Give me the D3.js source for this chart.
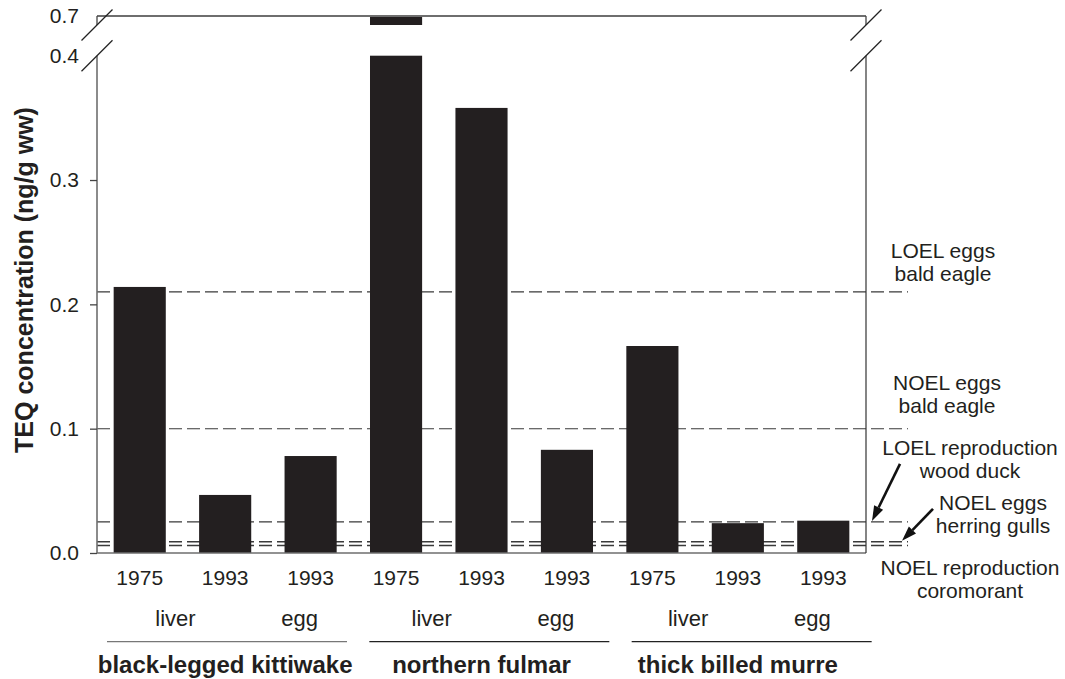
<!DOCTYPE html>
<html>
<head>
<meta charset="utf-8">
<script src="https://cdn.jsdelivr.net/npm/d3@7"></script>
<style>
  html, body { margin: 0; padding: 0; background: #fff; }
  svg { display: block; font-family: "Liberation Sans", Arial, sans-serif; }
</style>
</head>
<body>
<svg id="chart" width="1065" height="679"></svg>
<script>
// ---------- data ----------
const years = ["1975", "1993", "1993", "1975", "1993", "1993", "1975", "1993", "1993"];
const tissues = ["liver", "egg"];
const species = ["black-legged kittiwake", "northern fulmar", "thick billed murre"];
const values = [0.214, 0.0467, 0.078, 0.70, 0.358, 0.083, 0.1665, 0.024, 0.026];
const lowerTicks = [0.0, 0.1, 0.2, 0.3, 0.4];
const upperTicks = [0.7];
const thresholdValues = [0.21, 0.1, 0.025, 0.009, 0.006];
const thresholdLabels = [
  ["LOEL eggs", "bald eagle"],
  ["NOEL eggs", "bald eagle"],
  ["LOEL reproduction", "wood duck"],
  ["NOEL eggs", "herring gulls"],
  ["NOEL reproduction", "coromorant"]
];
const yTitle = "TEQ concentration (ng/g ww)";

// ---------- layout ----------
const L = 97, R = 866, T = 16, B = 553;
const breakLowY = 55.7, breakHighY = 25;
// label placement per threshold: [centre x, first baseline offset from line]
const labelLayout = [[943, -34], [947, -39], [970, -67], [993, -32], [970, 29]];
const arrowLayout = [null, null, {dx1: 28, dy1: -58, tipDx: 6}, {dx1: 31, dy1: -33, tipDx: 36}, null];

const svg = d3.select("#chart");

const x = d3.scaleBand().domain(d3.range(values.length)).range([L, R])
  .paddingInner(0.39).paddingOuter(0.195);
const yLow = d3.scaleLinear().domain([0, 0.4]).range([B, breakLowY]);
const yHigh = d3.scaleLinear().domain([0.6928, 0.7]).range([breakHighY, T]).clamp(true);

const gray = "#6e6e6e";

// threshold dashed lines (behind bars)
svg.append("g").selectAll("line").data(thresholdValues).join("line")
  .attr("x1", L).attr("x2", 908)
  .attr("y1", d => yLow(d)).attr("y2", d => yLow(d))
  .attr("stroke", "#3a3a3a")
  .attr("stroke-width", (d, i) => i >= 3 ? 1.4 : 1.1)
  .attr("stroke-dasharray", "13,5");

// bars
const bars = svg.append("g");
bars.selectAll("rect.low").data(values).join("rect").attr("class", "low")
  .attr("x", (d, i) => x(i)).attr("width", x.bandwidth())
  .attr("y", d => yLow(Math.min(d, 0.4)))
  .attr("height", d => yLow(0) - yLow(Math.min(d, 0.4)))
  .attr("fill", "#231f20");
bars.selectAll("rect.high").data(values.map((v, i) => ({v, i})).filter(d => d.v > 0.4)).join("rect")
  .attr("class", "high")
  .attr("x", d => x(d.i)).attr("width", x.bandwidth())
  .attr("y", d => yHigh(d.v))
  .attr("height", d => yHigh(yHigh.domain()[0]) - yHigh(d.v))
  .attr("fill", "#231f20");

// frame
const frame = svg.append("g").attr("fill", "none");
frame.append("line").attr("x1", L).attr("x2", R).attr("y1", T).attr("y2", T)
  .attr("stroke", gray).attr("stroke-width", 2);
frame.append("line").attr("x1", L).attr("x2", R).attr("y1", B).attr("y2", B)
  .attr("stroke", gray).attr("stroke-width", 1.5);
[L, R].forEach(xx => {
  frame.append("line").attr("x1", xx).attr("x2", xx).attr("y1", T).attr("y2", breakHighY)
    .attr("stroke", "#444").attr("stroke-width", 1.3);
  frame.append("line").attr("x1", xx).attr("x2", xx).attr("y1", breakLowY).attr("y2", B)
    .attr("stroke", xx === L ? gray : "#333").attr("stroke-width", xx === L ? 1.6 : 1.2);
  [breakHighY, breakLowY].forEach(yy => {
    frame.append("line")
      .attr("x1", xx - 15.5).attr("y1", yy + 15.5)
      .attr("x2", xx + 15.5).attr("y2", yy - 15.5)
      .attr("stroke", "#222").attr("stroke-width", 1.3);
  });
});

// y axis
const axLow = svg.append("g").attr("transform", `translate(${L},0)`)
  .call(d3.axisLeft(yLow).tickValues(lowerTicks).tickFormat(d3.format(".1f"))
    .tickSizeInner(7).tickSizeOuter(0).tickPadding(11));
axLow.select(".domain").remove();
axLow.selectAll(".tick line").attr("stroke", "#444").attr("stroke-width", 1.3)
  .filter(d => d === 0.4).remove();
const axHigh = svg.append("g").attr("transform", `translate(${L},0)`)
  .call(d3.axisLeft(yHigh).tickValues(upperTicks).tickFormat(d3.format(".1f"))
    .tickSizeInner(0).tickSizeOuter(0).tickPadding(18));
axHigh.select(".domain").remove();
axHigh.selectAll(".tick line").remove();
svg.selectAll(".tick text").attr("font-size", 21).attr("fill", "#231f20")
  .attr("font-family", "Liberation Sans, Arial, sans-serif");

// y title
svg.append("text")
  .attr("transform", `translate(33,280) rotate(-90)`)
  .attr("text-anchor", "middle")
  .attr("font-size", 25).attr("font-weight", "bold").attr("fill", "#231f20")
  .text(yTitle);

// x labels: years
svg.append("g").selectAll("text").data(years).join("text")
  .attr("x", (d, i) => x(i) + x.bandwidth() / 2).attr("y", 585)
  .attr("text-anchor", "middle").attr("font-size", 21).attr("fill", "#231f20")
  .text(d => d);

// tissue labels and species
const step = x.step();
species.forEach((sp, g) => {
  const c0 = x(g * 3) + x.bandwidth() / 2;
  const c1 = x(g * 3 + 1) + x.bandwidth() / 2;
  const c2 = x(g * 3 + 2) + x.bandwidth() / 2;
  svg.append("text").attr("x", (c0 + c1) / 2 - 7).attr("y", 626)
    .attr("text-anchor", "middle").attr("font-size", 22).attr("fill", "#231f20").text(tissues[0]);
  svg.append("text").attr("x", c2 - 11).attr("y", 626)
    .attr("text-anchor", "middle").attr("font-size", 22).attr("fill", "#231f20").text(tissues[1]);
  const gStart = x(g * 3) - step * x.paddingInner() / 2;
  svg.append("line").attr("x1", gStart + 10 + g * 6).attr("x2", gStart + 250 + g * 6)
    .attr("y1", 641.7).attr("y2", 641.7)
    .attr("stroke", g === 0 ? "#777" : "#222").attr("stroke-width", 1.3);
  svg.append("text").attr("x", c1).attr("y", 673)
    .attr("text-anchor", "middle").attr("font-size", 24).attr("font-weight", "bold")
    .attr("fill", "#231f20").text(sp);
});

// threshold labels
thresholdLabels.forEach((lines, i) => {
  const [cx, off] = labelLayout[i];
  const t = svg.append("text").attr("text-anchor", "middle").attr("font-size", 21).attr("fill", "#231f20");
  lines.forEach((ln, j) => {
    t.append("tspan").attr("x", cx).attr("y", yLow(thresholdValues[i]) + off + j * 23.5).text(ln);
  });
});

// arrows
arrowLayout.forEach((a, i) => {
  if (!a) return;
  const ty = yLow(thresholdValues[i]);
  const x2 = R + a.tipDx, y2 = ty - 1;
  const x1 = x2 + a.dx1, y1 = ty + a.dy1;
  const ang = Math.atan2(y2 - y1, x2 - x1);
  const hl = 15, hw = 5;
  const bx = x2 - hl * Math.cos(ang), by = y2 - hl * Math.sin(ang);
  svg.append("line").attr("x1", x1).attr("y1", y1).attr("x2", bx).attr("y2", by)
    .attr("stroke", "#111").attr("stroke-width", 2.6);
  const px = -Math.sin(ang) * hw, py = Math.cos(ang) * hw;
  svg.append("path")
    .attr("d", `M${x2},${y2}L${bx + px},${by + py}L${bx - px},${by - py}Z`)
    .attr("fill", "#111");
});
</script>
</body>
</html>
